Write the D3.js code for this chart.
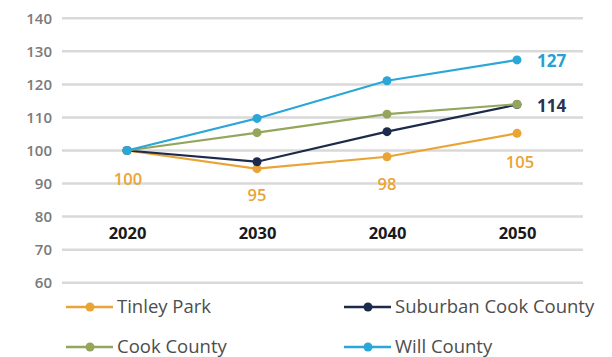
<!DOCTYPE html>
<html><head><meta charset="utf-8">
<script src="https://cdn.jsdelivr.net/npm/d3@7/dist/d3.min.js"></script>
<style>body{margin:0;background:#fff}svg{display:block}</style>
</head><body>
<svg id="c" width="612" height="357"></svg>
<script>
const years = ["2020","2030","2040","2050"];
const yTicks = [60,70,80,90,100,110,120,130,140];
const tinleyPark = [100, 94.5, 98.1, 105.2];
const suburbanCook = [100, 96.6, 105.7, 113.9];
const cookCounty = [100, 105.4, 111, 114];
const willCounty = [100, 109.7, 121.1, 127.4];
const tinleyLabels = ["100","95","98","105"];
const endLabels = [{name:"Will County", text:"127"},{name:"Suburban Cook County", text:"114"}];

const series = [
  {name:"Tinley Park", values:tinleyPark, color:"#E9A435"},
  {name:"Suburban Cook County", values:suburbanCook, color:"#1C2B4B"},
  {name:"Cook County", values:cookCounty, color:"#93A65C"},
  {name:"Will County", values:willCounty, color:"#2AA6D9"}
];
const labelColors = {"Will County":"#2A9FD2","Suburban Cook County":"#2A3350"};

const svg = d3.select("#c");
const font = "'Open Sans', sans-serif";
const x = d3.scalePoint().domain(years).range([127, 517]);
const y = d3.scaleLinear().domain([60,140]).range([282.7, 18.3]);

// grid
const yAxis = d3.axisLeft(y).tickValues(yTicks).tickSize(0).tickPadding(0);
const gy = svg.append("g").attr("transform","translate(52,0)").call(yAxis);
gy.select(".domain").remove();
gy.selectAll("text").attr("font-family",font).attr("font-size",15).attr("font-weight",600).attr("fill","#7a7a7a").attr("dy","0.35em");
svg.append("g").selectAll("line").data(yTicks).join("line")
  .attr("x1",62).attr("x2",583).attr("y1",d=>y(d)).attr("y2",d=>y(d))
  .attr("stroke","#d9d9d9").attr("stroke-width",2.5);

// x labels
const xAxis = d3.axisBottom(x).tickSize(0).tickPadding(0);
const gx = svg.append("g").attr("transform",`translate(0,${y(75)})`).call(xAxis);
gx.select(".domain").remove();
gx.selectAll("text").attr("font-family",font).attr("font-size",16.5).attr("font-weight",700).attr("fill","#1a1a1a").attr("dy","0.35em");

// lines
const line = d3.line().x((d,i)=>x(years[i])).y(d=>y(d));
series.forEach(s=>{
  const g = svg.append("g");
  g.append("path").attr("d",line(s.values)).attr("fill","none").attr("stroke",s.color).attr("stroke-width",2.2);
  g.selectAll("circle").data(s.values).join("circle")
    .attr("cx",(d,i)=>x(years[i])).attr("cy",d=>y(d)).attr("r",4.5).attr("fill",s.color);
});

// Tinley labels
svg.append("g").selectAll("text").data(tinleyPark).join("text")
  .attr("x",(d,i)=>x(years[i]) + (i===0?1:(i===3?3:0)))
  .attr("y",(d,i)=>y(d) + (i===0?29:(i===3?29:27)))
  .attr("text-anchor","middle").attr("dy","0.35em")
  .attr("font-family",font).attr("font-size",16.5).attr("font-weight",600)
  .attr("fill","#E9A435").text((d,i)=>tinleyLabels[i]);

// end labels
endLabels.forEach(l=>{
  const s = series.find(q=>q.name===l.name);
  svg.append("text").attr("x",x("2050")+20).attr("y",y(s.values[3])+1).attr("dy","0.35em")
    .attr("font-family",font).attr("font-size",17).attr("font-weight",700)
    .attr("fill",labelColors[l.name]).text(l.text);
});

// legend
const legendPos = [
  {name:"Tinley Park", x:66, y:307},
  {name:"Suburban Cook County", x:344, y:307},
  {name:"Cook County", x:66, y:347},
  {name:"Will County", x:344, y:347}
];
legendPos.forEach(p=>{
  const s = series.find(q=>q.name===p.name);
  const g = svg.append("g").attr("transform",`translate(${p.x},${p.y})`);
  g.append("line").attr("x1",0).attr("x2",47).attr("y1",0).attr("y2",0).attr("stroke",s.color).attr("stroke-width",2.5);
  g.append("circle").attr("cx",24).attr("cy",0).attr("r",4.5).attr("fill",s.color);
  g.append("text").attr("x",51).attr("y",0).attr("dy","0.35em")
    .attr("font-family",font).attr("font-size",18.5).attr("font-weight",400).attr("fill","#4d4d4d").text(s.name);
});
</script>
</body></html>
